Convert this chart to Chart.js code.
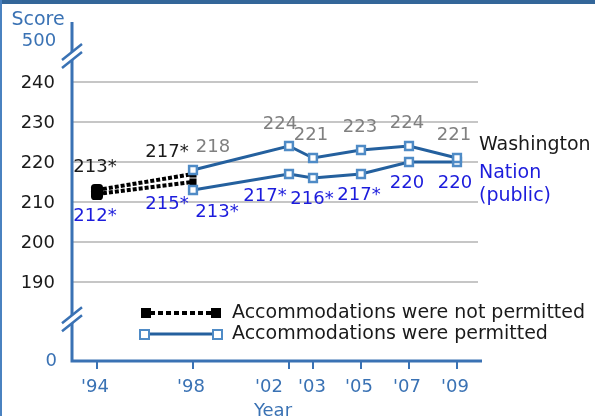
<!DOCTYPE html>
<html lang="en">
<head>
<meta charset="UTF-8">
<title>Washington vs Nation - scores</title>
<script src="https://cdn.jsdelivr.net/npm/chart.js"></script>
<style>
  body { margin: 0; background: #fff; }
  canvas { display: block; }
</style>
</head>
<body>
<canvas id="scoreChart" width="595" height="416"></canvas>
<script>
// data
const yearsNotPermitted = [1994, 1998];
const waNotPermitted = [213, 217];
const natNotPermitted = [212, 215];
const waNotPermittedSig = [true, true];
const natNotPermittedSig = [true, true];

const yearsPermitted = [1998, 2002, 2003, 2005, 2007, 2009];
const waPermitted = [218, 224, 221, 223, 224, 221];
const natPermitted = [213, 217, 216, 217, 220, 220];
const waPermittedSig = [false, false, false, false, false, false];
const natPermittedSig = [true, true, true, true, false, false];

const xTickYears = [1994, 1998, 2002, 2003, 2005, 2007, 2009];
const xTickLabels = ["'94", "'98", "'02", "'03", "'05", "'07", "'09"];
const yTickValues = [190, 200, 210, 220, 230, 240];

// label nudges (pixels), kept apart from the data
const waNPOffsets = [[-2, -23], [-26, -22]];
const natNPOffsets = [[-2, 22], [-26, 22]];
const waPOffsets = [[20, -23], [-9, -22], [-2, -23], [-1, -23], [-2, -23], [-3, -23]];
const natPOffsets = [[24, 22], [-24, 22], [-1, 21], [-2, 21], [-2, 21], [-2, 21]];
const xLabelOffsets = [-2, -2, -20, -1, -2, -2, -2];

const FONT = '"DejaVu Sans", sans-serif';
const AXIS_BLUE = '#3a72b4';
const LINE_BLUE = '#24609e';
const MARK_BLUE = '#4f8bc6';
const TEXT_BLUE = '#1c1cdc';
const TEXT_GRAY = '#808080';
const TEXT_BLACK = '#1a1a1a';

// fake axis ends for the broken scale
const Y_ZERO = 170.25, Y_FIVE_HUNDRED = 250.25;

function pts(xs, ys) {
  return xs.map((x, i) => ({ x: x, y: ys[i] }));
}

function drawBreak(ctx, x, y) {
  ctx.save();
  ctx.fillStyle = '#fff';
  ctx.beginPath();
  ctx.moveTo(x - 9, y + 4); ctx.lineTo(x + 9, y - 11);
  ctx.lineTo(x + 9, y - 4); ctx.lineTo(x - 9, y + 11);
  ctx.closePath(); ctx.fill();
  ctx.strokeStyle = AXIS_BLUE; ctx.lineWidth = 2.5;
  ctx.beginPath();
  ctx.moveTo(x - 10, y + 4); ctx.lineTo(x + 10, y - 12);
  ctx.moveTo(x - 10, y + 12); ctx.lineTo(x + 10, y - 4);
  ctx.stroke();
  ctx.restore();
}

const decor = {
  id: 'decor',
  beforeDatasetsDraw(chart) {
    const ctx = chart.ctx, xs = chart.scales.x, ys = chart.scales.y, a = chart.chartArea;
    ctx.save();
    // grid
    ctx.strokeStyle = '#c6c6c6'; ctx.lineWidth = 2;
    yTickValues.forEach(v => {
      const y = Math.round(ys.getPixelForValue(v));
      ctx.beginPath(); ctx.moveTo(a.left, y); ctx.lineTo(a.right - 4, y); ctx.stroke();
    });
    // axes
    ctx.strokeStyle = AXIS_BLUE; ctx.lineWidth = 3;
    ctx.beginPath();
    ctx.moveTo(a.left, a.top); ctx.lineTo(a.left, a.bottom); ctx.lineTo(a.right, a.bottom);
    ctx.stroke();
    ctx.lineWidth = 2;
    xTickYears.forEach(yr => {
      const x = Math.round(xs.getPixelForValue(yr));
      ctx.beginPath(); ctx.moveTo(x, a.bottom); ctx.lineTo(x, a.bottom + 8); ctx.stroke();
    });
    drawBreak(ctx, a.left, ys.getPixelForValue(246.5));
    drawBreak(ctx, a.left, ys.getPixelForValue(180.7));

    // y tick labels
    ctx.font = '18px ' + FONT;
    ctx.textAlign = 'right'; ctx.textBaseline = 'middle';
    ctx.fillStyle = TEXT_BLACK;
    yTickValues.forEach(v => ctx.fillText(String(v), 55, ys.getPixelForValue(v) + 1));
    ctx.fillStyle = AXIS_BLUE;
    ctx.fillText('0', 57, ys.getPixelForValue(Y_ZERO));
    ctx.textAlign = 'center';
    ctx.fillText('500', 39, ys.getPixelForValue(Y_FIVE_HUNDRED));
    ctx.font = '19px ' + FONT;
    ctx.fillText('Score', 38, 20);

    // x tick labels
    ctx.font = '18px ' + FONT;
    xTickYears.forEach((yr, i) => ctx.fillText(xTickLabels[i], xs.getPixelForValue(yr) + xLabelOffsets[i], a.bottom + 26));
    ctx.fillText('Year', 273, a.bottom + 50);
    ctx.restore();
  },
  afterDatasetsDraw(chart) {
    const ctx = chart.ctx, xs = chart.scales.x, ys = chart.scales.y;
    ctx.save();
    ctx.font = '18px ' + FONT;
    ctx.textAlign = 'center'; ctx.textBaseline = 'middle';
    function labels(years, vals, sig, offs, color) {
      ctx.fillStyle = color;
      years.forEach((yr, i) => {
        const t = vals[i] + (sig[i] ? '*' : '');
        ctx.fillText(t, xs.getPixelForValue(yr) + offs[i][0], ys.getPixelForValue(vals[i]) + offs[i][1]);
      });
    }
    labels(yearsNotPermitted, waNotPermitted, waNotPermittedSig, waNPOffsets, TEXT_BLACK);
    labels(yearsNotPermitted, natNotPermitted, natNotPermittedSig, natNPOffsets, TEXT_BLUE);
    labels(yearsPermitted, waPermitted, waPermittedSig, waPOffsets, TEXT_GRAY);
    labels(yearsPermitted, natPermitted, natPermittedSig, natPOffsets, TEXT_BLUE);

    // series names
    ctx.font = '19px ' + FONT;
    ctx.textAlign = 'left';
    ctx.fillStyle = TEXT_BLACK;
    ctx.fillText('Washington', 479, 145);
    ctx.fillStyle = TEXT_BLUE;
    ctx.fillText('Nation', 479, 173);
    ctx.fillText('(public)', 479, 196);

    // legend
    ctx.strokeStyle = '#000'; ctx.lineWidth = 4; ctx.setLineDash([5, 3]);
    ctx.beginPath(); ctx.moveTo(150, 313); ctx.lineTo(212, 313); ctx.stroke();
    ctx.setLineDash([]);
    ctx.fillStyle = '#000';
    ctx.fillRect(141, 308, 10, 10); ctx.fillRect(211, 308, 10, 10);
    ctx.strokeStyle = LINE_BLUE; ctx.lineWidth = 3;
    ctx.beginPath(); ctx.moveTo(148, 334); ctx.lineTo(214, 334); ctx.stroke();
    ctx.fillStyle = '#fff'; ctx.strokeStyle = MARK_BLUE; ctx.lineWidth = 2;
    [144, 217].forEach(x => { ctx.fillRect(x - 4, 330, 9, 9); ctx.strokeRect(x - 4, 330, 9, 9); });
    ctx.fillStyle = TEXT_BLACK;
    ctx.fillText('Accommodations were not permitted', 232, 313);
    ctx.fillText('Accommodations were permitted', 232, 334);

    // frame
    ctx.fillStyle = '#336699';
    ctx.fillRect(0, 0, 595, 4);
    ctx.fillStyle = '#4a82c0';
    ctx.fillRect(0, 0, 2, 416);
    ctx.restore();
  }
};

const permittedStyle = {
  borderColor: LINE_BLUE, borderWidth: 3,
  pointStyle: 'rect', pointRadius: 5.5, pointHoverRadius: 5.5,
  pointBackgroundColor: '#fff', pointBorderColor: MARK_BLUE, pointBorderWidth: 2.5
};
const notPermittedStyle = {
  borderColor: '#000', borderWidth: 4, borderDash: [4, 2],
  pointStyle: ['rectRounded', 'rect'], pointRadius: [7, 5], pointHoverRadius: [7, 5],
  pointBackgroundColor: '#000', pointBorderColor: '#000', pointBorderWidth: 0
};

new Chart(document.getElementById('scoreChart'), {
  type: 'line',
  data: {
    datasets: [
      Object.assign({ label: 'Washington', data: pts(yearsPermitted, waPermitted) }, permittedStyle),
      Object.assign({ label: 'Nation (public)', data: pts(yearsPermitted, natPermitted) }, permittedStyle),
      Object.assign({ label: 'Washington (not permitted)', data: pts(yearsNotPermitted, waNotPermitted) }, notPermittedStyle),
      Object.assign({ label: 'Nation (not permitted)', data: pts(yearsNotPermitted, natNotPermitted) }, notPermittedStyle)
    ]
  },
  options: {
    responsive: false,
    animation: false,
    clip: false,
    layout: { padding: { left: 72, right: 113, top: 22, bottom: 55 } },
    scales: {
      x: { type: 'linear', min: 1994 - 25 / 24, max: 2009 + 25 / 24, display: false },
      y: { min: Y_ZERO, max: 255, display: false }
    },
    plugins: { legend: { display: false }, tooltip: { enabled: false } },
    elements: { line: { tension: 0 } }
  },
  plugins: [decor]
});
</script>
</body>
</html>
